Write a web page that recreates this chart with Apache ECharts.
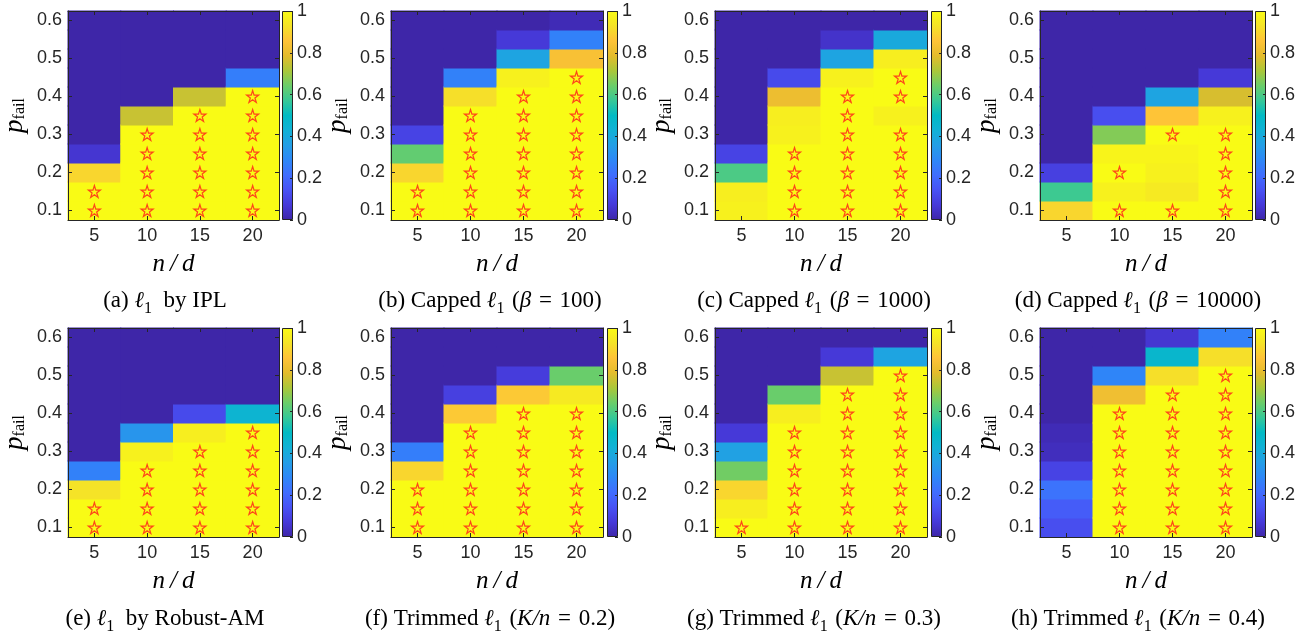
<!DOCTYPE html>
<html>
<head>
<meta charset="utf-8">
<script src="https://cdn.jsdelivr.net/npm/echarts@6/dist/echarts.min.js"></script>
<style>
  html, body { margin: 0; padding: 0; background: #ffffff; }
  #chart { width: 1315px; height: 637px; }
</style>
</head>
<body>
<div id="chart"></div>
<script>
// Axis categories
const nOverD = ['5', '10', '15', '20'];
const pFail = ['0.1', '0.15', '0.2', '0.25', '0.3', '0.35', '0.4', '0.45', '0.5', '0.55', '0.6'];

// Success rate per cell: one column per n/d, rows run p_fail = 0.1 ... 0.6
const l1IPL = [
  [1, 1, 0.9, 0.06, 0, 0, 0, 0, 0, 0, 0],
  [1, 1, 1, 1, 1, 0.75, 0, 0, 0, 0, 0],
  [1, 1, 1, 1, 1, 1, 0.75, 0, 0, 0, 0],
  [1, 1, 1, 1, 1, 1, 1, 0.26, 0, 0, 0]
];
const capped100 = [
  [1, 1, 0.9, 0.63, 0.1, 0, 0, 0, 0, 0, 0],
  [1, 1, 1, 1, 1, 1, 0.92, 0.27, 0, 0, 0],
  [1, 1, 1, 1, 1, 1, 1, 0.97, 0.38, 0.07, 0],
  [1, 1, 1, 1, 1, 1, 1, 1, 0.84, 0.27, 0.02]
];
const capped1000 = [
  [0.97, 0.96, 0.6, 0.1, 0, 0, 0, 0, 0, 0, 0],
  [1, 1, 1, 1, 0.97, 0.96, 0.81, 0.12, 0, 0, 0],
  [1, 1, 1, 1, 1, 1, 1, 0.97, 0.38, 0.05, 0],
  [1, 1, 1, 1, 1, 0.97, 1, 1, 0.96, 0.4, 0]
];
const capped10000 = [
  [0.9, 0.58, 0.09, 0, 0, 0, 0, 0, 0, 0, 0],
  [1, 0.97, 1, 0.98, 0.67, 0.13, 0, 0, 0, 0, 0],
  [1, 0.95, 0.97, 0.98, 1, 0.86, 0.38, 0, 0, 0, 0],
  [1, 1, 1, 1, 1, 0.97, 0.77, 0.07, 0, 0, 0]
];
const robustAM = [
  [1, 1, 0.93, 0.27, 0, 0, 0, 0, 0, 0, 0],
  [1, 1, 1, 1, 0.97, 0.33, 0, 0, 0, 0, 0],
  [1, 1, 1, 1, 1, 0.96, 0.12, 0, 0, 0, 0],
  [1, 1, 1, 1, 1, 1, 0.45, 0, 0, 0, 0]
];
const trimmed02 = [
  [1, 1, 1, 0.9, 0.26, 0, 0, 0, 0, 0, 0],
  [1, 1, 1, 1, 1, 1, 0.87, 0.09, 0, 0, 0],
  [1, 1, 1, 1, 1, 1, 1, 0.87, 0.08, 0, 0],
  [1, 1, 1, 1, 1, 1, 1, 0.95, 0.64, 0, 0]
];
const trimmed03 = [
  [1, 0.96, 0.9, 0.65, 0.37, 0.07, 0, 0, 0, 0, 0],
  [1, 1, 1, 1, 1, 1, 0.96, 0.64, 0, 0, 0],
  [1, 1, 1, 1, 1, 1, 1, 1, 0.75, 0.07, 0],
  [1, 1, 1, 1, 1, 1, 1, 1, 1, 0.38, 0]
];
const trimmed04 = [
  [0.13, 0.17, 0.23, 0.1, 0.03, 0.02, 0, 0, 0, 0, 0],
  [1, 1, 1, 1, 1, 1, 1, 0.82, 0.28, 0, 0],
  [1, 1, 1, 1, 1, 1, 1, 1, 0.92, 0.47, 0.06],
  [1, 1, 1, 1, 1, 1, 1, 1, 1, 0.92, 0.27]
];

const panels = [l1IPL, capped100, capped1000, capped10000, robustAM, trimmed02, trimmed03, trimmed04];

// Sub-figure captions (rich-text markup)
const captions = [
  '{r|(a) }{m|ℓ}{s|1}{r|\u2002by IPL}',
  '{r|(b) Capped }{m|ℓ}{s|1}{r|\u2004(}{m|β}{r|\u2004=\u2004100)}',
  '{r|(c) Capped }{m|ℓ}{s|1}{r|\u2004(}{m|β}{r|\u2004=\u20041000)}',
  '{r|(d) Capped }{m|ℓ}{s|1}{r|\u2004(}{m|β}{r|\u2004=\u200410000)}',
  '{r|(e) }{m|ℓ}{s|1}{r|\u2002by Robust-AM}',
  '{r|(f) Trimmed }{m|ℓ}{s|1}{r|\u2004(}{m|K/n}{r|\u2004=\u20040.2)}',
  '{r|(g) Trimmed }{m|ℓ}{s|1}{r|\u2004(}{m|K/n}{r|\u2004=\u20040.3)}',
  '{r|(h) Trimmed }{m|ℓ}{s|1}{r|\u2004(}{m|K/n}{r|\u2004=\u20040.4)}'
];

// Parula colour map, evenly spaced stops from 0 to 1
const parula = ['#3e26a8', '#4639d9', '#4852f4', '#406dfe', '#2e87f7', '#249ee6', '#12b1d6', '#02bac4',
                '#37c897', '#6bcd69', '#abc739', '#e4bc2c', '#fec338', '#f5e327', '#f9fb15'];

// Layout (cell edges land on whole pixels: 53 px per column, 19 px per row)
const colLeft = [67, 391, 715, 1040];
const cbLeft = [282, 607, 931, 1255];
const rowTop = [11, 328];
const plotW = 212, plotH = 209, cbW = 11;
const captionX = [165, 490, 814, 1138];
const captionY = [303, 621];

const ink = '#262626';
const sans = '"Liberation Sans", Arial, Helvetica, sans-serif';
const serif = '"Liberation Serif", "Times New Roman", serif';
const starPath = 'path://M50,2 L61,36 L97,36 L68,57 L79,91 L50,70 L21,91 L32,57 L3,36 L39,36 Z';

const cbGradient = new echarts.graphic.LinearGradient(0, 1, 0, 0,
  parula.map((c, i) => ({ offset: i / (parula.length - 1), color: c })));

// One filled rectangle per (n/d, p_fail) cell, sized by the category bands.
// A half-pixel overlap keeps neighbouring cells from showing hairline seams.
function renderCell(params, api) {
  const c = api.coord([api.value(0), api.value(1)]);
  const s = api.size([1, 1]);
  return {
    type: 'rect',
    shape: { x: c[0] - s[0] / 2 - 0.5, y: c[1] - s[1] / 2 - 0.5, width: s[0] + 1, height: s[1] + 1 },
    style: { fill: api.visual('color'), stroke: null }
  };
}

const option = {
  animation: false,
  backgroundColor: '#ffffff',
  grid: [], xAxis: [], yAxis: [], series: [], graphic: [],
  visualMap: [{
    type: 'continuous', show: false, min: 0, max: 1, dimension: 2,
    seriesIndex: panels.map((_, p) => p * 3),
    inRange: { color: parula }
  }]
};

panels.forEach((cols, p) => {
  const r = Math.floor(p / 4), c = p % 4;
  const g = p * 2;      // main grid; colour-bar grid is g + 1
  const a = p * 3;      // axes: a bottom/left, a+1 top/right, a+2 colour bar

  option.grid.push({ left: colLeft[c], top: rowTop[r], width: plotW, height: plotH });
  option.grid.push({ left: cbLeft[c], top: rowTop[r], width: cbW, height: plotH });

  const tick = { show: true, inside: true, alignWithLabel: true, length: 4, lineStyle: { color: ink, width: 1 } };
  const line = { show: true, onZero: false, lineStyle: { color: ink, width: 1 } };

  option.xAxis.push({
    gridIndex: g, type: 'category', data: nOverD, position: 'bottom', z: 5,
    axisLine: line, axisTick: tick, splitLine: { show: false },
    axisLabel: { color: ink, fontFamily: sans, fontSize: 18, margin: 7 },
    name: 'n\u2009/\u2009d', nameLocation: 'middle', nameGap: 32,
    nameTextStyle: { fontFamily: serif, fontStyle: 'italic', fontSize: 25, color: '#000' }
  });
  option.xAxis.push({
    gridIndex: g, type: 'category', data: nOverD, position: 'top', z: 5,
    axisLine: line, axisTick: tick, axisLabel: { show: false }, splitLine: { show: false }
  });
  option.xAxis.push({
    gridIndex: g + 1, type: 'category', data: [''], show: false
  });

  option.yAxis.push({
    gridIndex: g, type: 'category', data: pFail, position: 'left', z: 5,
    axisLine: line, axisTick: Object.assign({}, tick, { interval: 1 }), splitLine: { show: false },
    axisLabel: { color: ink, fontFamily: sans, fontSize: 18, margin: 6, interval: 1 },
    name: '{p|p}{s|fail}', nameLocation: 'middle', nameRotate: 90, nameGap: 40,
    nameTextStyle: {
      color: '#000',
      rich: {
        p: { fontFamily: serif, fontStyle: 'italic', fontSize: 27, verticalAlign: 'top', color: '#000' },
        s: { fontFamily: serif, fontSize: 16, verticalAlign: 'top', padding: [11, 0, 0, 0], color: '#000' }
      }
    }
  });
  option.yAxis.push({
    gridIndex: g, type: 'category', data: pFail, position: 'right', z: 5,
    axisLine: line, axisTick: Object.assign({}, tick, { interval: 1 }),
    axisLabel: { show: false }, splitLine: { show: false }
  });
  option.yAxis.push({
    gridIndex: g + 1, type: 'value', min: 0, max: 1, interval: 0.2, position: 'right', z: 5,
    axisLine: { show: false },
    axisTick: { show: true, inside: true, length: 3, lineStyle: { color: ink, width: 1 } },
    splitLine: { show: false },
    axisLabel: { color: ink, fontFamily: sans, fontSize: 18, margin: 4 }
  });

  // cells from the table; a star marks every cell whose success rate is exactly 1
  const cells = [], stars = [];
  cols.forEach((col, xi) => col.forEach((v, yi) => {
    cells.push([xi, yi, v]);
    if (v === 1) stars.push([xi, yi]);
  }));

  option.series.push({
    type: 'custom', xAxisIndex: a, yAxisIndex: a, data: cells, silent: true, z: 2,
    encode: { x: 0, y: 1 }, renderItem: renderCell
  });
  option.series.push({
    type: 'scatter', xAxisIndex: a, yAxisIndex: a, data: stars, silent: true, z: 4,
    symbol: starPath, symbolSize: 12,
    itemStyle: { color: 'rgba(0,0,0,0)', borderColor: '#ff1a1a', borderWidth: 1.2 }
  });
  option.series.push({
    type: 'bar', xAxisIndex: a + 2, yAxisIndex: a + 2, data: [1], barWidth: '100%', silent: true,
    itemStyle: { color: cbGradient, borderColor: ink, borderWidth: 1 }
  });

  option.graphic.push({
    type: 'text', x: captionX[c], y: captionY[r], silent: true,
    style: {
      text: captions[p], textAlign: 'center', textVerticalAlign: 'middle',
      rich: {
        r: { fontFamily: serif, fontSize: 23, color: '#000', verticalAlign: 'top' },
        m: { fontFamily: serif, fontStyle: 'italic', fontSize: 23, color: '#000', verticalAlign: 'top' },
        s: { fontFamily: serif, fontSize: 16, color: '#000', verticalAlign: 'top', padding: [11, 0, 0, 0] }
      }
    }
  });
});

const chart = echarts.init(document.getElementById('chart'), null, { renderer: 'canvas' });
chart.setOption(option);
</script>
</body>
</html>
